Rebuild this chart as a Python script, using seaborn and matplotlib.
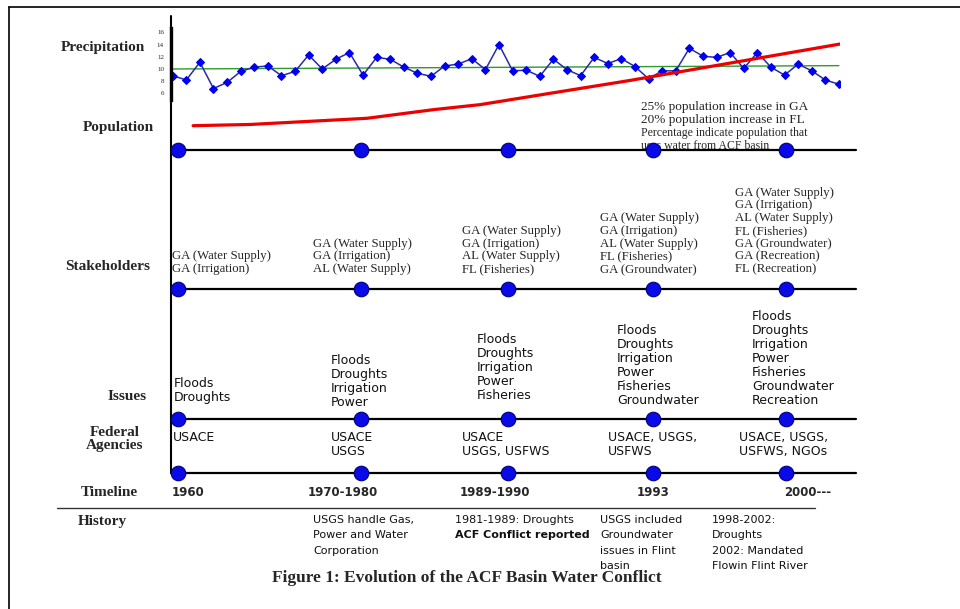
import matplotlib
matplotlib.use("Agg")
import matplotlib.pyplot as plt
import seaborn as sns
import pandas as pd

# annual precipitation, 50 years
precip = [8.9, 8.2, 11.1, 6.8, 7.8, 9.6, 10.3, 10.5, 8.9, 9.6,
          12.3, 10.0, 11.6, 12.7, 9.0, 11.9, 11.6, 10.3, 9.3, 8.8,
          10.5, 10.8, 11.7, 9.9, 14.0, 9.7, 9.8, 8.8, 11.6, 9.9,
          8.9, 11.9, 10.9, 11.7, 10.4, 8.4, 9.7, 9.7, 13.4, 12.1,
          11.9, 12.7, 10.1, 12.7, 10.3, 9.0, 10.8, 9.7, 8.2, 7.5]
precip_ticks = [6, 8, 10, 12, 14, 16]
trend_x = [-0.1, 49]
trend_y = [10.0, 10.55]

# population curve (arbitrary units, same year index as precip)
pop_x = [1.5, 5.7, 14.3, 19.2, 22.6, 28.0, 33.6, 49.1]
pop_y = [2.0, 2.1, 2.6, 3.3, 3.7, 4.66, 5.65, 8.6]

pop_note = ["25% population increase in GA",
            "20% population increase in FL",
            "Percentage indicate population that",
            "uses water from ACF basin"]

row_labels = ["Precipitation", "Population", "Stakeholders", "Issues",
              "Federal\nAgencies", "Timeline", "History"]
timeline = ["1960", "1970-1980", "1989-1990", "1993", "2000---"]
stakeholders = [
    ["GA (Water Supply)", "GA (Irrigation)"],
    ["GA (Water Supply)", "GA (Irrigation)", "AL (Water Supply)"],
    ["GA (Water Supply)", "GA (Irrigation)", "AL (Water Supply)", "FL (Fisheries)"],
    ["GA (Water Supply)", "GA (Irrigation)", "AL (Water Supply)", "FL (Fisheries)",
     "GA (Groundwater)"],
    ["GA (Water Supply)", "GA (Irrigation)", "AL (Water Supply)", "FL (Fisheries)",
     "GA (Groundwater)", "GA (Recreation)", "FL (Recreation)"],
]
issues = [
    ["Floods", "Droughts"],
    ["Floods", "Droughts", "Irrigation", "Power"],
    ["Floods", "Droughts", "Irrigation", "Power", "Fisheries"],
    ["Floods", "Droughts", "Irrigation", "Power", "Fisheries", "Groundwater"],
    ["Floods", "Droughts", "Irrigation", "Power", "Fisheries", "Groundwater",
     "Recreation"],
]
agencies = [
    ["USACE"],
    ["USACE", "USGS"],
    ["USACE", "USGS, USFWS"],
    ["USACE, USGS,", "USFWS"],
    ["USACE, USGS,", "USFWS, NGOs"],
]
history = [
    [],
    ["USGS handle Gas,", "Power and Water", "Corporation"],
    ["1981-1989: Droughts", "ACF Conflict reported"],
    ["USGS included", "Groundwater", "issues in Flint", "basin"],
    ["1998-2002:", "Droughts", "2002: Mandated", "Flowin Flint River"],
]
caption = "Figure 1: Evolution of the ACF Basin Water Conflict"

sns.set_style("white")
plt.rcParams["font.family"] = ["DejaVu Sans"]
SERIF = ["Liberation Serif", "DejaVu Serif"]

W, H = 960, 609
fig = plt.figure(figsize=(9.6, 6.09), dpi=100)

# overlay in pixel units for the diagram part
ax = fig.add_axes([0, 0, 1, 1])


def fig_box(x0, y0, x1, y1):
    return [x0 / W, 1 - y1 / H, (x1 - x0) / W, (y1 - y0) / H]


# page border
ax.plot([9, W], [7, 7], color="black", lw=1.2)
ax.plot([9, 9], [7, H], color="black", lw=1.2)

col_x = [178, 361, 508, 653, 786]
row_y = [150, 289, 419, 473]

# main vertical and row lines
ax.plot([170.5, 170.5], [16, 473], color="black", lw=1.5)
for y in row_y:
    ax.plot([171, 856], [y, y], color="black", lw=1.6, zorder=2)
dots = pd.DataFrame([(x, y) for y in row_y for x in col_x], columns=["x", "y"])
sns.scatterplot(data=dots, x="x", y="y", s=110, color="#0a0ae8",
                edgecolor="#00007a", linewidth=0.8, ax=ax, zorder=4)
ax.set_xlim(0, W)
ax.set_ylim(H, 0)
ax.axis("off")

# row labels
lab_pos = [(145, 48, "right"), (154, 128, "right"), (150, 267, "right"),
           (147, 396, "right"), (115, 439, "center"), (138, 493, "right"),
           (78, 521, "left")]
for t, (x, y, ha) in zip(row_labels, lab_pos):
    ax.text(x, y, t, ha=ha, va="center", fontsize=11, fontweight="bold",
            family=SERIF, linespacing=1.0)

# stakeholders
sh_x = [172, 313, 462, 600, 735]
for x, lines in zip(sh_x, stakeholders):
    ax.text(x, 275, "\n".join(lines), ha="left", va="bottom", fontsize=9.2,
            family=SERIF, linespacing=1.08)

# issues
is_x = [174, 331, 477, 617, 752]
is_y = [404, 409, 402, 407, 407]
for x, y, lines in zip(is_x, is_y, issues):
    ax.text(x, y, "\n".join(lines), ha="left", va="bottom", fontsize=9,
            linespacing=1.1, color="#111111")

# federal agencies
ag_x = [173, 331, 462, 608, 739]
for x, lines in zip(ag_x, agencies):
    ax.text(x, 431, "\n".join(lines), ha="left", va="top", fontsize=9,
            linespacing=1.1, color="#111111")

# timeline labels
tl_pos = [(172, "left"), (343, "center"), (495, "center"), (653, "center"),
          (808, "center")]
for t, (x, ha) in zip(timeline, tl_pos):
    ax.text(x, 493, t, ha=ha, va="center", fontsize=8.5, fontweight="bold")

# history separator and texts
ax.plot([57, 815], [508, 508], color="#333333", lw=1.0)
hi_x = [0, 313, 455, 600, 712]
for x, lines in zip(hi_x, history):
    for k, line in enumerate(lines):
        bold = line.startswith("ACF")
        ax.text(x, 520 + 15.3 * k, line, ha="left", va="center", fontsize=8,
                fontweight="bold" if bold else "normal", color="#111111")

ax.text(467, 578, caption, ha="center", va="center", fontsize=12.5,
        fontweight="bold", family=SERIF)

# population note
note_sz = [9.5, 9.5, 8.5, 8.5]
for k, (line, fs) in enumerate(zip(pop_note, note_sz)):
    ax.text(641, 107 + 13 * k, line, ha="left", va="center", fontsize=fs,
            family=SERIF, zorder=1)

# precipitation strip
axp = fig.add_axes(fig_box(171, 20.2, 840, 105.6))
axp.patch.set_alpha(0)
years = list(range(len(precip)))
sns.lineplot(x=trend_x, y=trend_y, ax=axp, color="#2f9a2f", lw=1.0)
sns.lineplot(x=years, y=precip, ax=axp, color="#2a2aa8", lw=1.1, marker="D",
             markersize=4.5, markerfacecolor="#0000ee", markeredgecolor="#0000ee")
axp.set_xlim(-0.125, 49.08)
axp.set_ylim(4, 18)
axp.set_xticks([])
axp.set_yticks(precip_ticks)
axp.set_yticklabels([str(v) for v in precip_ticks], fontsize=5, family=SERIF)
axp.tick_params(axis="y", length=0, pad=5)
for s in ["top", "right", "bottom"]:
    axp.spines[s].set_visible(False)
axp.spines["left"].set_bounds(4.9, 16.7)
axp.spines["left"].set_linewidth(2.4)
axp.spines["left"].set_color("black")
axp.set_xlabel("")
axp.set_ylabel("")

# population curve
axpop = fig.add_axes(fig_box(171, 26.66, 840, 150.46))
axpop.patch.set_alpha(0)
sns.lineplot(x=pop_x, y=pop_y, ax=axpop, color="#ee0000", lw=2.3)
axpop.set_xlim(-0.125, 49.08)
axpop.set_ylim(0, 10)
axpop.axis("off")

fig.savefig("out.png", dpi=100)
